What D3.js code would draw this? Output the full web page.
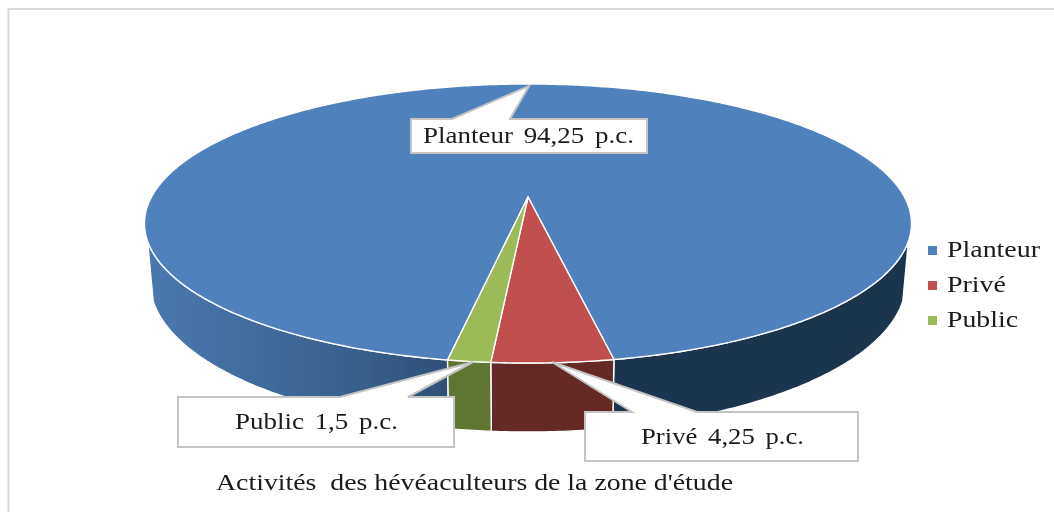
<!DOCTYPE html>
<html lang="fr">
<head>
<meta charset="utf-8">
<script src="https://cdn.jsdelivr.net/npm/d3@7"></script>
<style>
html,body{margin:0;padding:0;background:#fff;overflow:hidden}
svg{display:block}
text{font-family:"Liberation Serif","Times New Roman",serif;fill:#1a1a1a;white-space:pre}
</style>
</head>
<body>
<svg id="chart" width="1054" height="512" xmlns="http://www.w3.org/2000/svg"></svg>
<script>
// ---- data ----
const categories = ["Planteur", "Privé", "Public"];
const shares = [94.25, 4.25, 1.5];
const calloutTexts = ["Planteur 94,25 p.c.", "Privé 4,25 p.c.", "Public 1,5 p.c."];
const chartTitle = "Activités  des hévéaculteurs de la zone d'étude";

// ---- styles ----
const topColors = ["#4f81bd", "#c0504d", "#9bbb59"];
const sideColors = ["#1f344f", "#662a28", "#5f7431"];

// ---- layout ----
const centerX = 528;
const topPlane = {A: 376.5, B: 134.5, Y0: 197};
const bottomPlane = {A: 371, B: 144.6, Y0: 253.5};
const k = 0.19;                        // perspective strength
const silhouette = [108, 252].map(d => d * Math.PI / 180); // visible side range
const startAngle = 190 * Math.PI / 180;

const calloutLayout = [
  {box: [411, 119, 647, 153], tip: [529, 86],  base: [452, 510], tx: [423, 634], by: 143},
  {box: [585, 412, 858, 461], tip: [552, 362], base: [632, 697], tx: [641, 804], by: 444},
  {box: [178, 397, 454, 447], tip: [473, 362], base: [340, 408], tx: [235, 398], by: 429}
];
const legendLayout = {x: 928, size: 9, textX: 947, widths: [93, 59, 71], baselines: [257, 292, 327]};

const svg = d3.select("#chart");
const defs = svg.append("defs");

defs.append("filter").attr("id", "soft")
  .attr("x", "-5%").attr("y", "-5%").attr("width", "110%").attr("height", "110%")
  .append("feGaussianBlur").attr("stdDeviation", 0.35);

const grad = defs.append("linearGradient").attr("id", "leftSide")
  .attr("gradientUnits", "userSpaceOnUse")
  .attr("x1", 147).attr("x2", 450).attr("y1", 0).attr("y2", 0);
[[0, "#4a79b0"], [0.35, "#406c9e"], [0.7, "#38608c"], [1, "#2f4f78"]].forEach(([o, c]) =>
  grad.append("stop").attr("offset", o).attr("stop-color", c));

const root = svg.append("g").attr("filter", "url(#soft)");

// chart frame (top and left edges only are visible)
root.append("path").attr("d", "M8.5,512V9H1054").attr("fill", "none")
  .attr("stroke", "#d9d9d9").attr("stroke-width", 2);

// perspective projection of a disc point
function project(plane, angle, r = 1) {
  const u = r * Math.sin(angle), v = -r * Math.cos(angle), d = 1 - k * v;
  return [centerX + plane.A * u / d, plane.Y0 + plane.B * v / d];
}
const line = d3.line();
const samples = (a0, a1) => {
  const n = Math.max(2, Math.ceil(Math.abs(a1 - a0) / 0.01));
  return d3.range(n + 1).map(i => a0 + (a1 - a0) * i / n);
};

const pie = d3.pie().sort(null).startAngle(startAngle).endAngle(startAngle + 2 * Math.PI);
const arcs = pie(shares);

function sidePath(a0, a1) {
  const as = samples(a0, a1);
  return line(as.map(a => project(topPlane, a))
    .concat(as.slice().reverse().map(a => project(bottomPlane, a)))) + "Z";
}

// side walls: the large slice is seen on both sides of the small ones
const TAU = 2 * Math.PI;
const mainArc = arcs[0];
const sides = root.append("g").attr("stroke", "#fff").attr("stroke-width", 1.4).attr("stroke-linejoin", "round");
sides.append("path").attr("d", sidePath(silhouette[0], mainArc.endAngle - TAU)).attr("fill", sideColors[0]);
sides.append("path").attr("d", sidePath(mainArc.startAngle, silhouette[1])).attr("fill", "url(#leftSide)");
sides.selectAll("path.small").data(arcs.slice(1)).join("path").attr("class", "small")
  .attr("d", d => sidePath(d.startAngle, d.endAngle))
  .attr("fill", d => sideColors[d.index]);

// top face
root.append("g").attr("stroke", "#fff").attr("stroke-width", 1.4).attr("stroke-linejoin", "round")
  .selectAll("path").data(arcs).join("path")
  .attr("d", d => line([project(topPlane, 0, 0)].concat(samples(d.startAngle, d.endAngle).map(a => project(topPlane, a)))) + "Z")
  .attr("fill", d => topColors[d.index]);

// callouts
const callouts = root.append("g").selectAll("g").data(calloutLayout).join("g");
callouts.append("path")
  .attr("d", d => {
    const [x0, y0, x1, y1] = d.box;
    return line([[x0, y0], [d.base[0], y0], d.tip, [d.base[1], y0], [x1, y0], [x1, y1], [x0, y1]]) + "Z";
  })
  .attr("fill", "#fff").attr("stroke", "#c4c4c4").attr("stroke-width", 2).attr("stroke-linejoin", "miter");
callouts.append("text")
  .attr("x", d => d.tx[0]).attr("y", d => d.by)
  .attr("font-size", 23.5).attr("word-spacing", 3.5)
  .attr("textLength", d => d.tx[1] - d.tx[0]).attr("lengthAdjust", "spacingAndGlyphs")
  .text((d, i) => calloutTexts[i]);

// legend
const legend = root.append("g").selectAll("g").data(categories).join("g");
legend.append("rect")
  .attr("x", legendLayout.x).attr("y", (d, i) => legendLayout.baselines[i] - 11)
  .attr("width", legendLayout.size).attr("height", legendLayout.size)
  .attr("fill", (d, i) => topColors[i]);
legend.append("text")
  .attr("x", legendLayout.textX).attr("y", (d, i) => legendLayout.baselines[i])
  .attr("font-size", 23.5)
  .attr("textLength", (d, i) => legendLayout.widths[i]).attr("lengthAdjust", "spacingAndGlyphs")
  .text(d => d);

// title
root.append("text").attr("x", 216).attr("y", 490).attr("font-size", 23)
  .attr("textLength", 517).attr("lengthAdjust", "spacingAndGlyphs")
  .text(chartTitle);
</script>
</body>
</html>
